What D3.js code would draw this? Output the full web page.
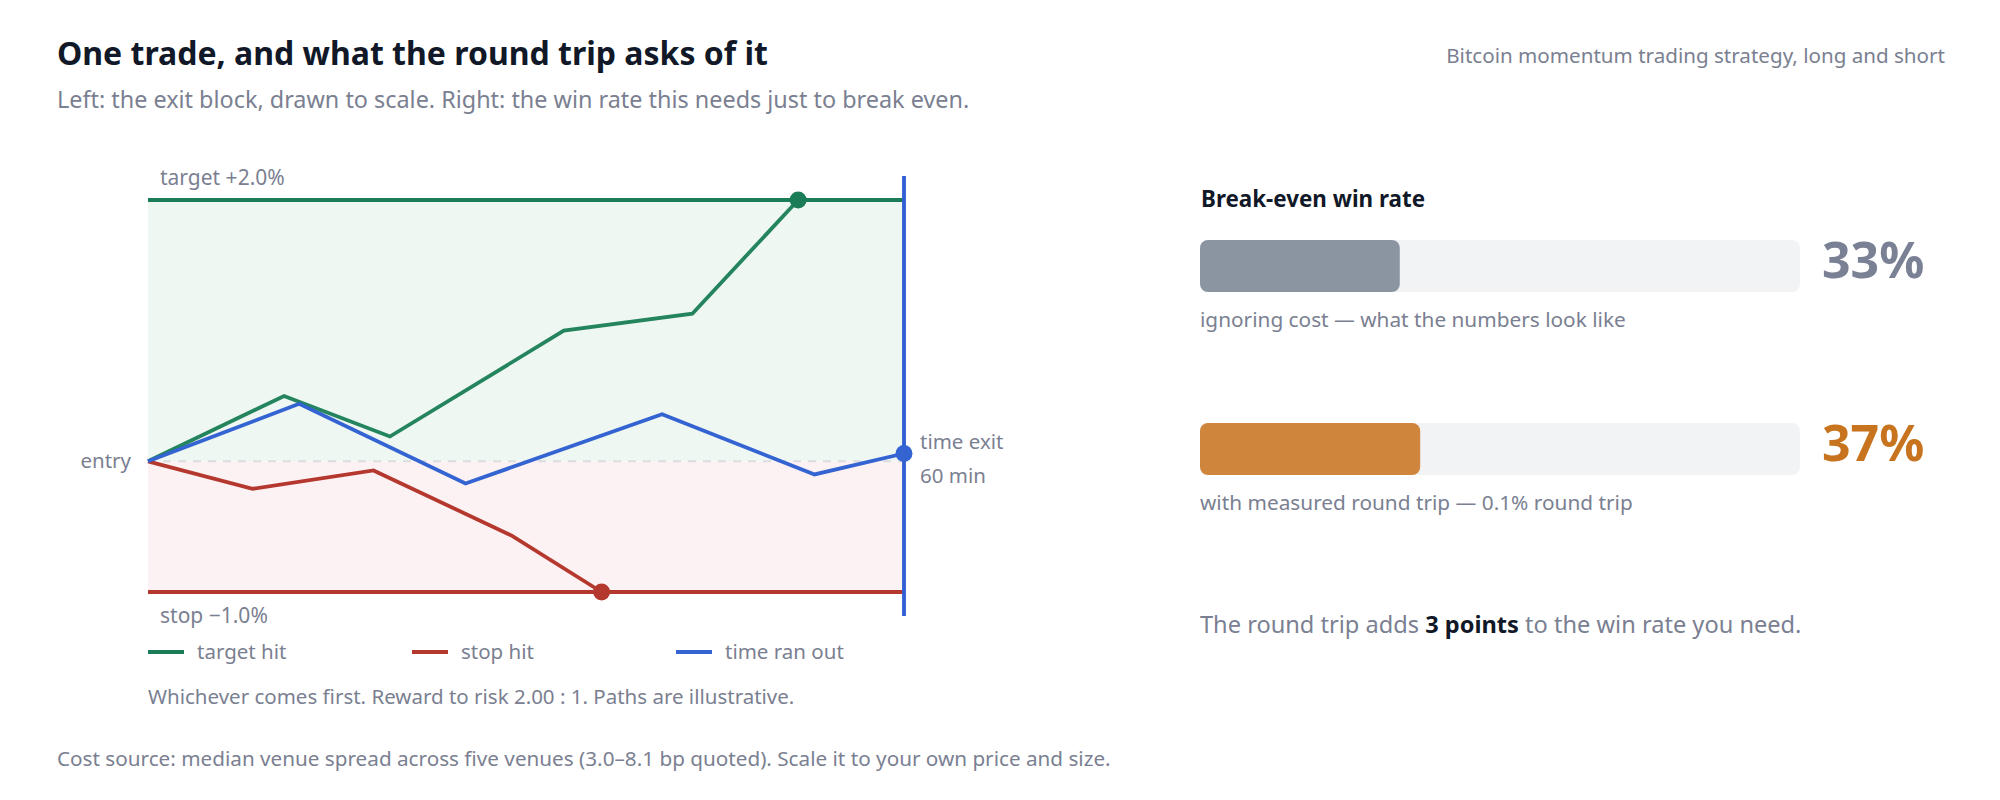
<!DOCTYPE html>
<html>
<head>
<meta charset="utf-8">
<script src="https://cdn.jsdelivr.net/npm/d3@7"></script>
<style>
  body { margin: 0; background: #fff; }
  svg { display: block; font-family: "Segoe UI", "Noto Sans", sans-serif; }
</style>
</head>
<body>
<svg id="chart"></svg>
<script>
// ---- data ----
// paths: minutes since entry, move in percent
var greenTimes = [0, 10.8, 19.2, 33.0, 43.2, 51.6];
var greenMoves = [0, 0.50, 0.19, 1.00, 1.13, 2.0];
var redTimes = [0, 8.3, 17.9, 28.9, 36.0];
var redMoves = [0, -0.21, -0.07, -0.57, -1.0];
var blueTimes = [0, 12.0, 25.2, 40.8, 52.9, 60];
var blueMoves = [0, 0.44, -0.17, 0.36, -0.10, 0.06];

var targetPct = 2.0, stopPct = -1.0, timeLimit = 60;
var legendNames = ["target hit", "stop hit", "time ran out"];

// break-even rows
var rowLabels = ["ignoring cost — what the numbers look like", "with measured round trip — 0.1% round trip"];
var rowValues = [33.3, 36.7];

var colors = {
  green: "#1b7d57", red: "#b5382f", blue: "#3463d2",
  greenFill: "#eff7f3", redFill: "#fdf2f3",
  muted: "#7a8091", ink: "#111827"
};
var small = 20.5;

var W = 2000, H = 800;
var svg = d3.select("#chart").attr("width", W).attr("height", H);
svg.append("rect").attr("width", W).attr("height", H).attr("fill", "#fff");

// ---- header ----
svg.append("text").attr("x", 57).attr("y", 65)
  .attr("font-size", 32).attr("font-weight", 700).attr("fill", colors.ink)
  .text("One trade, and what the round trip asks of it");
svg.append("text").attr("x", 57).attr("y", 108)
  .attr("font-size", 23.4).attr("fill", colors.muted)
  .text("Left: the exit block, drawn to scale. Right: the win rate this needs just to break even.");
svg.append("text").attr("x", 1945).attr("y", 63).attr("text-anchor", "end")
  .attr("font-size", 20.6).attr("fill", colors.muted)
  .text("Bitcoin momentum trading strategy, long and short");

// ---- left: exit block ----
var x = d3.scaleLinear().domain([0, timeLimit]).range([148, 904]);
var y = d3.scaleLinear().domain([stopPct, targetPct]).range([592, 200]);

var g = svg.append("g");

g.append("rect").attr("x", x(0)).attr("y", y(targetPct))
  .attr("width", x(timeLimit) - x(0)).attr("height", y(0) - y(targetPct))
  .attr("fill", colors.greenFill);
g.append("rect").attr("x", x(0)).attr("y", y(0))
  .attr("width", x(timeLimit) - x(0)).attr("height", y(stopPct) - y(0))
  .attr("fill", colors.redFill);

g.append("line").attr("x1", x(0)).attr("x2", x(timeLimit)).attr("y1", y(0)).attr("y2", y(0))
  .attr("stroke", "#dcdde0").attr("stroke-width", 2).attr("stroke-dasharray", "8,7");

g.append("line").attr("x1", x(0)).attr("x2", x(timeLimit)).attr("y1", y(targetPct)).attr("y2", y(targetPct))
  .attr("stroke", colors.green).attr("stroke-width", 4);
g.append("line").attr("x1", x(0)).attr("x2", x(timeLimit)).attr("y1", y(stopPct)).attr("y2", y(stopPct))
  .attr("stroke", colors.red).attr("stroke-width", 4);

g.append("line").attr("x1", x(timeLimit)).attr("x2", x(timeLimit)).attr("y1", 176).attr("y2", 616)
  .attr("stroke", "#2f5fd0").attr("stroke-width", 3.8);

var line = d3.line().x(function(d){ return x(d[0]); }).y(function(d){ return y(d[1]); });
var paths = [
  { times: greenTimes, moves: greenMoves, color: "#23845d", dot: colors.green },
  { times: redTimes, moves: redMoves, color: colors.red, dot: colors.red },
  { times: blueTimes, moves: blueMoves, color: colors.blue, dot: colors.blue }
];
paths.forEach(function(p) {
  var pts = d3.zip(p.times, p.moves);
  g.append("path").datum(pts).attr("d", line)
    .attr("fill", "none").attr("stroke", p.color).attr("stroke-width", 3.8)
    .attr("stroke-linejoin", "miter");
  var last = pts[pts.length - 1];
  g.append("circle").attr("cx", x(last[0])).attr("cy", y(last[1])).attr("r", 8.5)
    .attr("fill", p.dot);
});

g.append("text").attr("x", 160).attr("y", 185).attr("font-size", 21).attr("fill", colors.muted)
  .text("target +" + d3.format(".1f")(targetPct) + "%");
g.append("text").attr("x", 160).attr("y", 623).attr("font-size", 21).attr("fill", colors.muted)
  .text("stop \u2212" + d3.format(".1f")(Math.abs(stopPct)) + "%");
g.append("text").attr("x", 131).attr("y", 468).attr("text-anchor", "end")
  .attr("font-size", small).attr("fill", colors.muted).text("entry");
g.append("text").attr("x", 920).attr("y", 449).attr("font-size", small).attr("fill", colors.muted)
  .text("time exit");
g.append("text").attr("x", 920).attr("y", 483).attr("font-size", small).attr("fill", colors.muted)
  .text(timeLimit + " min");

// legend
var legendX = d3.scalePoint().domain(legendNames).range([148, 676]);
var legendColors = [colors.green, colors.red, colors.blue];
var lg = g.selectAll(".lg").data(legendNames).enter().append("g")
  .attr("transform", function(d){ return "translate(" + legendX(d) + ",652)"; });
lg.append("line").attr("x1", 0).attr("x2", 36).attr("y1", 0).attr("y2", 0)
  .attr("stroke", function(d, i){ return legendColors[i]; }).attr("stroke-width", 4);
lg.append("text").attr("x", 49).attr("y", 7).attr("font-size", small).attr("fill", colors.muted)
  .text(function(d){ return d; });

g.append("text").attr("x", 148).attr("y", 704).attr("font-size", small).attr("fill", colors.muted)
  .text("Whichever comes first. Reward to risk " + d3.format(".2f")(targetPct / Math.abs(stopPct)) + " : 1. Paths are illustrative.");

// ---- right: break-even bars ----
var bx = d3.scaleLinear().domain([0, 100]).range([1200, 1800]);
var by = d3.scalePoint().domain(rowLabels).range([240, 423]);
var barH = 52;
var barColors = ["#8b95a1", "#cf853b"];
var valueColors = ["#7a8194", "#c8741f"];

svg.append("text").attr("x", 1201).attr("y", 207)
  .attr("font-size", 22.4).attr("font-weight", 700).attr("fill", colors.ink)
  .text("Break-even win rate");

var rows = svg.selectAll(".row").data(rowLabels).enter().append("g")
  .attr("transform", function(d){ return "translate(0," + by(d) + ")"; });
rows.append("rect").attr("x", bx(0)).attr("y", 0)
  .attr("width", bx(100) - bx(0)).attr("height", barH).attr("rx", 8)
  .attr("fill", "#f2f3f5");
rows.append("rect").attr("x", bx(0)).attr("y", 0)
  .attr("width", function(d, i){ return bx(rowValues[i]) - bx(0); })
  .attr("height", barH).attr("rx", 8)
  .attr("fill", function(d, i){ return barColors[i]; });
rows.append("text").attr("x", 1822).attr("y", 38)
  .attr("font-size", 50).attr("font-weight", 700)
  .attr("fill", function(d, i){ return valueColors[i]; })
  .text(function(d, i){ return d3.format(".0f")(rowValues[i]) + "%"; });
rows.append("text").attr("x", 1200).attr("y", 87)
  .attr("font-size", 20.8).attr("fill", colors.muted)
  .text(function(d){ return d; });

var added = Math.round(rowValues[1] - rowValues[0]);
var closing = svg.append("text").attr("x", 1200).attr("y", 633)
  .attr("font-size", 23.6).attr("fill", colors.muted);
closing.append("tspan").text("The round trip adds ");
closing.append("tspan").attr("font-weight", 700).attr("fill", colors.ink).text(added + " points");
closing.append("tspan").text(" to the win rate you need.");

// ---- footer ----
svg.append("text").attr("x", 57).attr("y", 766).attr("font-size", 20.7).attr("fill", colors.muted)
  .text("Cost source: median venue spread across five venues (3.0\u20138.1 bp quoted). Scale it to your own price and size.");
</script>
</body>
</html>
